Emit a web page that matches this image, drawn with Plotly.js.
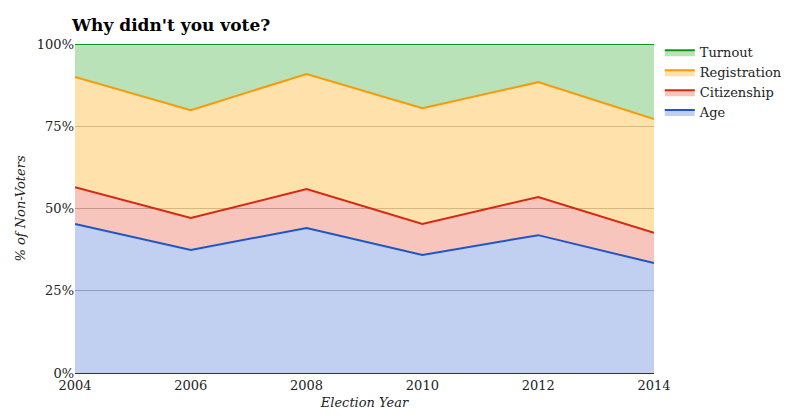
<!DOCTYPE html>
<html>
<head>
<script src="https://cdn.plot.ly/plotly-3.0.1.min.js"></script>
<style>body{margin:0}</style>
</head>
<body>
<div id="chart" style="width:800px;height:420px"></div>
<script>
var years = [2004, 2006, 2008, 2010, 2012, 2014];
var age = [45.3, 37.4, 44.1, 35.9, 41.9, 33.4];
var citizenship = [11.2, 9.7, 11.8, 9.4, 11.6, 9.2];
var registration = [33.5, 32.8, 35.0, 35.2, 34.9, 34.6];
var turnout = [10.0, 20.1, 9.1, 19.5, 11.6, 22.8];
var y_ticks = [0, 25, 50, 75, 100];
var y_labels = ["0%", "25%", "50%", "75%", "100%"];

var series = [
    ["Age", age, "#1f55c8", "rgba(112,146,220,0.43)"],
    ["Citizenship", citizenship, "#d62910", "rgba(236,120,100,0.43)"],
    ["Registration", registration, "#f59b0a", "rgba(255,196,90,0.5)"],
    ["Turnout", turnout, "#109618", "rgba(100,190,100,0.45)"],
];

var data = series.map(function (s) {
    return {
        name: s[0],
        x: years,
        y: s[1],
        type: "scatter",
        mode: "lines",
        stackgroup: "one",
        line: {color: s[2], width: 2},
        fillcolor: s[3],
        hoverinfo: "none",
    };
});

var layout = {
    width: 800,
    height: 420,
    font: {family: "DejaVu Serif, serif", size: 13, color: "#222"},
    title: {text: "<b>Why didn't you vote?</b>", x: 0.09, xanchor: "left", y: 0.955, font: {size: 17, color: "#000"}},
    margin: {l: 75, r: 143, t: 44, b: 47},
    plot_bgcolor: "#fff",
    showlegend: true,
    legend: {x: 1.01, y: 1.02, traceorder: "reversed", font: {size: 13}},
    xaxis: {
        range: [2004, 2014],
        tickvals: years,
        showgrid: false,
        showline: true,
        linecolor: "#333",
        title: {text: "<i>Election Year</i>", font: {size: 13}, standoff: 6},
    },
    yaxis: {
        range: [0, 100],
        tickmode: "array",
        tickvals: y_ticks,
        ticktext: y_labels,
        gridcolor: "#aaa",
        zeroline: false,
        title: {text: "<i>% of Non-Voters</i>", font: {size: 13}, standoff: 8},
    },
};

Plotly.newPlot("chart", data, layout, {displayModeBar: false});
</script>
</body>
</html>
